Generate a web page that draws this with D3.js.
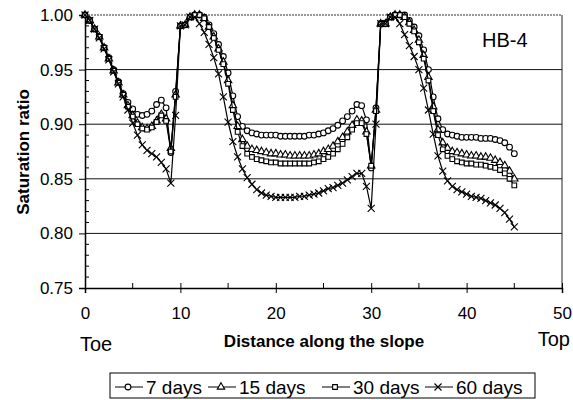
<!DOCTYPE html>
<html>
<head>
<meta charset="utf-8">
<script src="https://cdn.jsdelivr.net/npm/d3@7"></script>
<style>
  body { margin: 0; background: #fff; }
  svg { display: block; font-family: "Liberation Sans", Arial, sans-serif; }
</style>
</head>
<body>
<div id="chart"></div>
<script>
// distance along the slope (x values)
var dist = [0,0.5,1,1.5,2,2.5,3,3.5,4,4.5,5,5.5,6,6.5,7,7.5,8,8.5,9,9.5,
  10,10.5,11,11.5,12,12.5,13,13.5,14,14.5,15,15.5,16,16.5,17,17.5,18,18.5,19,19.5,
  20,20.5,21,21.5,22,22.5,23,23.5,24,24.5,25,25.5,26,26.5,27,27.5,28,28.5,29,29.5,
  30,30.5,31,31.5,32,32.5,33,33.5,34,34.5,35,35.5,36,36.5,37,37.5,38,38.5,39,39.5,
  40,40.5,41,41.5,42,42.5,43,43.5,44,44.5,45]

var days7 = [1.000,0.995,0.987,0.980,0.970,0.961,0.950,0.939,0.928,0.920,
  0.914,0.909,0.908,0.909,0.912,0.918,0.922,0.915,0.874,0.930,
  0.990,0.991,0.998,1.000,1.000,0.998,0.991,0.983,0.973,0.962,
  0.947,0.926,0.907,0.898,0.894,0.892,0.891,0.890,0.890,0.890,
  0.890,0.889,0.889,0.889,0.889,0.889,0.889,0.890,0.890,0.891,
  0.892,0.894,0.896,0.899,0.903,0.907,0.912,0.918,0.917,0.904,
  0.860,0.915,0.992,0.992,0.998,1.000,1.000,1.000,0.995,0.989,
  0.981,0.968,0.950,0.925,0.905,0.895,0.891,0.890,0.889,0.888,
  0.888,0.888,0.888,0.887,0.887,0.887,0.886,0.885,0.883,0.879,0.873]

var days15 = [1.000,0.995,0.987,0.980,0.970,0.960,0.949,0.938,0.927,0.917,
  0.908,0.901,0.897,0.896,0.898,0.903,0.909,0.905,0.878,0.927,
  0.990,0.991,0.998,1.000,1.000,0.997,0.989,0.980,0.969,0.957,
  0.940,0.917,0.898,0.886,0.880,0.877,0.876,0.875,0.874,0.873,
  0.873,0.872,0.872,0.871,0.871,0.871,0.871,0.871,0.872,0.873,
  0.875,0.877,0.880,0.884,0.888,0.893,0.899,0.904,0.903,0.893,
  0.862,0.913,0.992,0.992,0.998,1.000,1.000,0.998,0.993,0.986,
  0.977,0.963,0.943,0.916,0.895,0.883,0.878,0.875,0.874,0.873,
  0.872,0.871,0.871,0.870,0.870,0.869,0.867,0.865,0.862,0.857,0.850]

var days30 = [1.000,0.995,0.987,0.980,0.970,0.960,0.949,0.938,0.927,0.916,
  0.907,0.900,0.896,0.895,0.897,0.902,0.908,0.903,0.875,0.925,
  0.990,0.991,0.998,1.000,1.000,0.997,0.989,0.979,0.968,0.955,
  0.937,0.913,0.893,0.880,0.873,0.870,0.868,0.867,0.866,0.865,
  0.865,0.864,0.864,0.864,0.864,0.864,0.864,0.864,0.865,0.866,
  0.868,0.870,0.873,0.877,0.882,0.888,0.895,0.901,0.901,0.891,
  0.862,0.912,0.992,0.992,0.998,1.000,1.000,0.998,0.992,0.985,
  0.975,0.960,0.940,0.912,0.890,0.877,0.871,0.868,0.866,0.865,
  0.864,0.864,0.863,0.863,0.862,0.861,0.860,0.858,0.855,0.850,0.844]

var days60 = [1.000,0.995,0.987,0.979,0.969,0.959,0.948,0.937,0.925,0.913,
  0.901,0.890,0.881,0.876,0.873,0.870,0.865,0.859,0.846,0.908,
  0.990,0.991,0.998,0.998,0.992,0.984,0.973,0.961,0.946,0.925,
  0.902,0.884,0.870,0.859,0.851,0.845,0.840,0.837,0.835,0.834,
  0.833,0.833,0.833,0.833,0.833,0.834,0.834,0.835,0.836,0.837,
  0.839,0.841,0.842,0.844,0.846,0.849,0.852,0.855,0.855,0.843,
  0.823,0.900,0.992,0.992,0.998,0.998,0.992,0.982,0.972,0.962,
  0.950,0.933,0.913,0.891,0.871,0.857,0.848,0.843,0.840,0.838,
  0.836,0.834,0.833,0.832,0.830,0.828,0.826,0.823,0.819,0.813,0.806]

var seriesNames = ["7 days", "15 days", "30 days", "60 days"]
var seriesShapes = ["circle", "triangle", "square", "cross"]
var yTicks = [0.75, 0.80, 0.85, 0.90, 0.95, 1.00]
var xTicks = [0, 10, 20, 30, 40, 50]

var series = [days7, days15, days30, days60].map(function(vals, i) {
  return { name: seriesNames[i], shape: seriesShapes[i],
    points: vals.map(function(v, j) { return { d: dist[j], v: v } }) }
})

var width = 573, height = 400
var margin = {top: 15, right: 11, bottom: 112, left: 85}

var svg = d3.select("#chart").append("svg")
  .attr("width", width)
  .attr("height", height)

var x = d3.scaleLinear().domain([0, 50]).range([margin.left, width - margin.right])
var y = d3.scaleLinear().domain([0.75, 1.0]).range([height - margin.bottom, margin.top])

// gridlines
svg.append("g")
  .selectAll("line")
  .data([0.80, 0.85, 0.90, 0.95])
  .join("line")
    .attr("x1", x(0)).attr("x2", x(50))
    .attr("y1", d => y(d)).attr("y2", d => y(d))
    .attr("stroke", "#111").attr("stroke-width", 1)

// top border (dotted) and right border
svg.append("line")
  .attr("x1", x(0)).attr("x2", x(50))
  .attr("y1", y(1)).attr("y2", y(1))
  .attr("stroke", "#333").attr("stroke-width", 1)
  .attr("stroke-dasharray", "2,1")
svg.append("line")
  .attr("x1", x(50)).attr("x2", x(50))
  .attr("y1", y(1)).attr("y2", y(0.75))
  .attr("stroke", "#222").attr("stroke-width", 1)

// y axis
var yAxis = svg.append("g")
  .attr("transform", "translate(" + x(0) + ",0)")
  .call(d3.axisLeft(y).tickValues(yTicks).tickFormat(d3.format(".2f")).tickSize(6).tickPadding(6))
yAxis.select(".domain").attr("stroke-width", 1.5)
yAxis.selectAll("text").attr("font-size", "17px").attr("fill", "#000")
  .attr("font-family", "Liberation Sans, Arial, sans-serif")

// y minor ticks (inside)
svg.append("g")
  .selectAll("line")
  .data(d3.range(76, 100).filter(d => d % 5 != 0).map(d => d / 100))
  .join("line")
    .attr("x1", x(0)).attr("x2", x(0) + 4)
    .attr("y1", d => y(d)).attr("y2", d => y(d))
    .attr("stroke", "#000")

// x axis
var xAxis = svg.append("g")
  .attr("transform", "translate(0," + y(0.75) + ")")
  .call(d3.axisBottom(x).tickValues(xTicks).tickSize(5).tickPadding(14))
xAxis.select(".domain").attr("stroke-width", 1.5)
xAxis.selectAll(".tick line").attr("y1", -5)
xAxis.selectAll("text").attr("font-size", "17px").attr("fill", "#000")
  .attr("font-family", "Liberation Sans, Arial, sans-serif")

// x minor ticks
svg.append("g")
  .selectAll("line")
  .data([5, 15, 25, 35, 45])
  .join("line")
    .attr("x1", d => x(d)).attr("x2", d => x(d))
    .attr("y1", y(0.75)).attr("y2", y(0.75) - 5)
    .attr("stroke", "#000")

// axis titles and labels
svg.append("text")
  .attr("transform", "translate(29,152) rotate(-90)")
  .attr("text-anchor", "middle")
  .attr("font-size", "17px").attr("font-weight", "bold")
  .text("Saturation ratio")

svg.append("text")
  .attr("x", 324).attr("y", 347)
  .attr("text-anchor", "middle")
  .attr("font-size", "17px").attr("font-weight", "bold")
  .text("Distance along the slope")

svg.append("text")
  .attr("x", 80).attr("y", 351)
  .attr("font-size", "20px")
  .text("Toe")

svg.append("text")
  .attr("x", 570).attr("y", 346)
  .attr("text-anchor", "end")
  .attr("font-size", "20px")
  .text("Top")

svg.append("text")
  .attr("x", 482).attr("y", 47)
  .attr("font-size", "20px")
  .text("HB-4")

// marker drawing
function marker(sel, shape) {
  if (shape == "cross") {
    sel.append("path")
      .attr("d", "M-3.5,-3.5L3.5,3.5M3.5,-3.5L-3.5,3.5")
      .attr("stroke", "#000").attr("stroke-width", 1.1).attr("fill", "none")
  } else {
    var t = {circle: d3.symbolCircle, triangle: d3.symbolTriangle, square: d3.symbolSquare}[shape]
    var s = {circle: 26, triangle: 24, square: 22}[shape]
    sel.append("path")
      .attr("d", d3.symbol().type(t).size(s))
      .attr("stroke", "#000").attr("stroke-width", 1.1).attr("fill", "#fff")
  }
}

var line = d3.line()
  .x(d => x(d.d))
  .y(d => y(d.v))

series.forEach(function(s) {
  var g = svg.append("g")
  g.append("path")
    .datum(s.points)
    .attr("d", line)
    .attr("fill", "none")
    .attr("stroke", "#000")
    .attr("stroke-width", 1.2)
  g.selectAll("g.pt")
    .data(s.points)
    .join("g")
      .attr("class", "pt")
      .attr("transform", d => "translate(" + x(d.d) + "," + y(d.v) + ")")
      .each(function() { marker(d3.select(this), s.shape) })
})

// legend
var legend = svg.append("g")
legend.append("rect")
  .attr("x", 110).attr("y", 373)
  .attr("width", 425).attr("height", 25)
  .attr("fill", "none").attr("stroke", "#000").attr("stroke-width", 1)

var legendX = [115, 208, 322, 425]
series.forEach(function(s, i) {
  var lx = legendX[i]
  legend.append("line")
    .attr("x1", lx).attr("x2", lx + 28)
    .attr("y1", 387).attr("y2", 387)
    .attr("stroke", "#000")
  var m = legend.append("g").attr("transform", "translate(" + (lx + 13) + ",387)")
  marker(m, s.shape)
  legend.append("text")
    .attr("x", lx + 31).attr("y", 394)
    .attr("font-size", "19px")
    .text(s.name)
})
</script>
</body>
</html>
